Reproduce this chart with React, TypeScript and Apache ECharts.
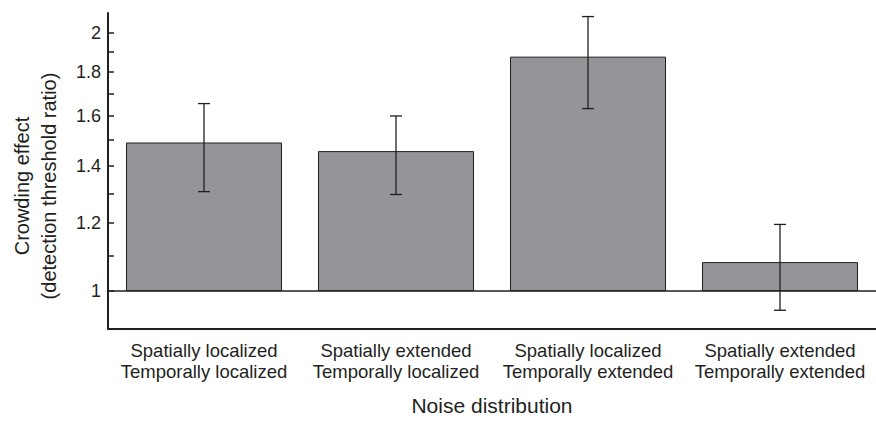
import React, { useEffect, useRef } from "react";
import * as echarts from "echarts";

// Noise conditions along the x axis
const categories = [
  "Spatially localized\nTemporally localized",
  "Spatially extended\nTemporally localized",
  "Spatially localized\nTemporally extended",
  "Spatially extended\nTemporally extended",
];

// Crowding effect (detection threshold ratio), mean and error-bar limits
const ratios = [1.49, 1.456, 1.876, 1.081];
const errLow = [1.306, 1.296, 1.632, 0.95];
const errHigh = [1.654, 1.6, 2.089, 1.196];

// Log-scaled y axis: tick marks and labelled ticks
const tickValues = [1, 1.1, 1.2, 1.3, 1.4, 1.5, 1.6, 1.7, 1.8, 1.9, 2];
const labelValues = [1, 1.2, 1.4, 1.6, 1.8, 2];
const yMin = 0.9034;
const yMax = 2.109;

const INK = "#231f20";
const FONT = "'Liberation Sans', Arial, Helvetica, sans-serif";

const lg = (v: number) => Math.log10(v);

export default function App() {
  const ref = useRef<HTMLDivElement>(null);

  useEffect(() => {
    if (!ref.current) return;
    const chart = echarts.init(ref.current, undefined, { renderer: "svg" });

    const errData = categories.map((_, i) => [i, lg(errLow[i]), lg(errHigh[i])]);

    chart.setOption({
      animation: false,
      backgroundColor: "#ffffff",
      textStyle: { fontFamily: FONT, color: INK },
      grid: { left: 104, top: 13, width: 780, height: 323, containLabel: false },
      xAxis: {
        type: "category",
        data: categories,
        axisLine: { onZero: false, lineStyle: { color: INK, width: 2 } },
        axisTick: { inside: true, alignWithLabel: true, length: 6, lineStyle: { color: INK, width: 1.5 } },
        axisLabel: { interval: 0, fontFamily: FONT, fontSize: 18.5, lineHeight: 21, color: INK, margin: 11 },
        name: "Noise distribution",
        nameLocation: "middle",
        nameGap: 66,
        nameTextStyle: { fontFamily: FONT, fontSize: 21, color: INK },
        splitLine: { show: false },
      },
      yAxis: {
        type: "value",
        min: lg(yMin),
        max: lg(yMax),
        axisLine: { show: true, lineStyle: { color: INK, width: 2 } },
        axisTick: {
          show: true,
          inside: true,
          length: 6,
          customValues: tickValues.map(lg),
          lineStyle: { color: INK, width: 1.5 },
        },
        axisLabel: {
          customValues: labelValues.map(lg),
          formatter: (v: number) => String(Math.round(Math.pow(10, v) * 10) / 10),
          fontFamily: FONT,
          fontSize: 18,
          color: INK,
          margin: 7,
        },
        splitLine: { show: false },
        name: "Crowding effect\n(detection threshold ratio)",
        nameLocation: "middle",
        nameGap: 46,
        nameTextStyle: { fontFamily: FONT, fontSize: 20, lineHeight: 27, color: INK, padding: [0, 30, 0, 0] },
      },
      series: [
        {
          type: "bar",
          data: ratios.map(lg),
          barWidth: 156,
          itemStyle: { color: "#939598", borderColor: INK, borderWidth: 1 },
          markLine: {
            silent: true,
            symbol: "none",
            label: { show: false },
            lineStyle: { color: INK, width: 1.5, type: "solid" },
            data: [{ yAxis: 0 }],
          },
        },
        {
          type: "custom",
          data: errData,
          encode: { x: 0, y: [1, 2] },
          z: 5,
          renderItem: (_params: any, api: any) => {
            const x = api.value(0);
            const lo = api.coord([x, api.value(1)]);
            const hi = api.coord([x, api.value(2)]);
            const cap = 6;
            const style = { stroke: INK, lineWidth: 1.3 };
            return {
              type: "group",
              children: [
                { type: "line", shape: { x1: lo[0], y1: lo[1], x2: hi[0], y2: hi[1] }, style },
                { type: "line", shape: { x1: lo[0] - cap, y1: lo[1], x2: lo[0] + cap, y2: lo[1] }, style },
                { type: "line", shape: { x1: hi[0] - cap, y1: hi[1], x2: hi[0] + cap, y2: hi[1] }, style },
              ],
            };
          },
        },
      ],
    });

    return () => chart.dispose();
  }, []);

  return (
    <div
      ref={ref}
      style={{ position: "fixed", left: 0, top: 0, width: 876, height: 421, background: "#fff" }}
    />
  );
}
